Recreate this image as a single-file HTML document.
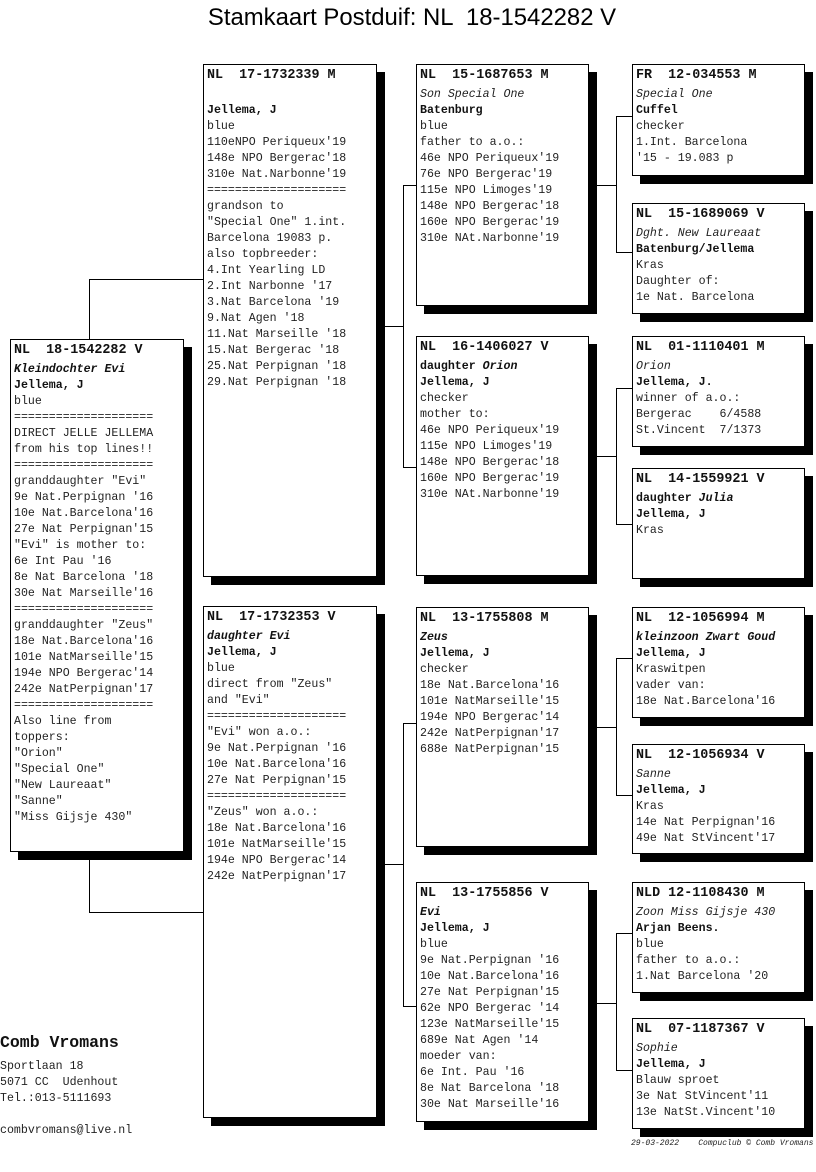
<!DOCTYPE html>
<html><head><meta charset="utf-8"><style>
body{margin:0;width:816px;height:1172px;background:#fff;position:relative;overflow:hidden;font-family:"Liberation Mono",monospace;font-size:11.6px;color:#222}
.b{position:absolute;background:#fff;border:1px solid #000;box-sizing:border-box;box-shadow:8px 8px 0 #000;padding:0 0 0 3px;white-space:pre;line-height:16px}
.b .h{font-weight:bold;font-size:13.4px;line-height:22px;height:22px;color:#111}
.i{font-style:italic}.bd{font-weight:bold;color:#111}
.l{position:absolute;background:#000}
.title{position:absolute;left:0;width:824px;top:4px;text-align:center;font-family:"Liberation Sans",sans-serif;font-size:23.9px;color:#000;white-space:pre}
</style></head><body>
<div class="title">Stamkaart Postduif: NL  18-1542282 V</div>

<!-- connectors -->
<div class="l" style="left:89px;top:279px;width:1px;height:60px"></div>
<div class="l" style="left:89px;top:279px;width:114px;height:1px"></div>
<div class="l" style="left:89px;top:858px;width:1px;height:54px"></div>
<div class="l" style="left:89px;top:912px;width:114px;height:1px"></div>

<div class="l" style="left:385px;top:326px;width:18px;height:1px"></div>
<div class="l" style="left:403px;top:185px;width:1px;height:282px"></div>
<div class="l" style="left:403px;top:185px;width:13px;height:1px"></div>
<div class="l" style="left:403px;top:467px;width:13px;height:1px"></div>
<div class="l" style="left:385px;top:864px;width:18px;height:1px"></div>
<div class="l" style="left:403px;top:723px;width:1px;height:283px"></div>
<div class="l" style="left:403px;top:723px;width:13px;height:1px"></div>
<div class="l" style="left:403px;top:1006px;width:13px;height:1px"></div>

<div class="l" style="left:597px;top:185px;width:19px;height:1px"></div>
<div class="l" style="left:616px;top:116px;width:1px;height:136px"></div>
<div class="l" style="left:616px;top:116px;width:16px;height:1px"></div>
<div class="l" style="left:616px;top:252px;width:16px;height:1px"></div>
<div class="l" style="left:597px;top:456px;width:19px;height:1px"></div>
<div class="l" style="left:616px;top:388px;width:1px;height:136px"></div>
<div class="l" style="left:616px;top:388px;width:16px;height:1px"></div>
<div class="l" style="left:616px;top:524px;width:16px;height:1px"></div>
<div class="l" style="left:597px;top:727px;width:19px;height:1px"></div>
<div class="l" style="left:616px;top:658px;width:1px;height:137px"></div>
<div class="l" style="left:616px;top:658px;width:16px;height:1px"></div>
<div class="l" style="left:616px;top:795px;width:16px;height:1px"></div>
<div class="l" style="left:597px;top:1003px;width:19px;height:1px"></div>
<div class="l" style="left:616px;top:933px;width:1px;height:137px"></div>
<div class="l" style="left:616px;top:933px;width:16px;height:1px"></div>
<div class="l" style="left:616px;top:1070px;width:16px;height:1px"></div>

<!-- root -->
<div class="b" style="left:10px;top:339px;width:174px;height:513px"><div class="h">NL  18-1542282 V</div><div class="bd i">Kleindochter Evi</div><div class="bd">Jellema, J</div>blue
====================
DIRECT JELLE JELLEMA
from his top lines!!
====================
granddaughter "Evi"
9e Nat.Perpignan '16
10e Nat.Barcelona'16
27e Nat Perpignan'15
"Evi" is mother to:
6e Int Pau '16
8e Nat Barcelona '18
30e Nat Marseille'16
====================
granddaughter "Zeus"
18e Nat.Barcelona'16
101e NatMarseille'15
194e NPO Bergerac'14
242e NatPerpignan'17
====================
Also line from
toppers:
"Orion"
"Special One"
"New Laureaat"
"Sanne"
"Miss Gijsje 430"</div>

<!-- gen1 -->
<div class="b" style="left:203px;top:64px;width:174px;height:513px"><div class="h">NL  17-1732339 M</div>
<div class="bd">Jellema, J</div>blue
110eNPO Periqueux'19
148e NPO Bergerac'18
310e Nat.Narbonne'19
====================
grandson to
"Special One" 1.int.
Barcelona 19083 p.
also topbreeder:
4.Int Yearling LD
2.Int Narbonne '17
3.Nat Barcelona '19
9.Nat Agen '18
11.Nat Marseille '18
15.Nat Bergerac '18
25.Nat Perpignan '18
29.Nat Perpignan '18</div>

<div class="b" style="left:203px;top:606px;width:174px;height:512px"><div class="h">NL  17-1732353 V</div><div class="bd"><span class="i">daughter Evi</span></div><div class="bd">Jellema, J</div>blue
direct from "Zeus"
and "Evi"
====================
"Evi" won a.o.:
9e Nat.Perpignan '16
10e Nat.Barcelona'16
27e Nat Perpignan'15
====================
"Zeus" won a.o.:
18e Nat.Barcelona'16
101e NatMarseille'15
194e NPO Bergerac'14
242e NatPerpignan'17</div>

<!-- gen2 -->
<div class="b" style="left:416px;top:64px;width:173px;height:242px"><div class="h">NL  15-1687653 M</div><div class="i">Son Special One</div><div class="bd">Batenburg</div>blue
father to a.o.:
46e NPO Periqueux'19
76e NPO Bergerac'19
115e NPO Limoges'19
148e NPO Bergerac'18
160e NPO Bergerac'19
310e NAt.Narbonne'19</div>

<div class="b" style="left:416px;top:336px;width:173px;height:240px"><div class="h">NL  16-1406027 V</div><div class="bd">daughter <span class="i">Orion</span></div><div class="bd">Jellema, J</div>checker
mother to:
46e NPO Periqueux'19
115e NPO Limoges'19
148e NPO Bergerac'18
160e NPO Bergerac'19
310e NAt.Narbonne'19</div>

<div class="b" style="left:416px;top:607px;width:173px;height:240px"><div class="h">NL  13-1755808 M</div><div class="bd i">Zeus</div><div class="bd">Jellema, J</div>checker
18e Nat.Barcelona'16
101e NatMarseille'15
194e NPO Bergerac'14
242e NatPerpignan'17
688e NatPerpignan'15</div>

<div class="b" style="left:416px;top:882px;width:173px;height:240px"><div class="h">NL  13-1755856 V</div><div class="bd i">Evi</div><div class="bd">Jellema, J</div>blue
9e Nat.Perpignan '16
10e Nat.Barcelona'16
27e Nat Perpignan'15
62e NPO Bergerac '14
123e NatMarseille'15
689e Nat Agen '14
moeder van:
6e Int. Pau '16
8e Nat Barcelona '18
30e Nat Marseille'16</div>

<!-- gen3 -->
<div class="b" style="left:632px;top:64px;width:173px;height:112px"><div class="h">FR  12-034553 M</div><div class="i">Special One</div><div class="bd">Cuffel</div>checker
1.Int. Barcelona
'15 - 19.083 p</div>
<div class="b" style="left:632px;top:203px;width:173px;height:111px"><div class="h">NL  15-1689069 V</div><div class="i">Dght. New Laureaat</div><div class="bd">Batenburg/Jellema</div>Kras
Daughter of:
1e Nat. Barcelona</div>
<div class="b" style="left:632px;top:336px;width:173px;height:111px"><div class="h">NL  01-1110401 M</div><div class="i">Orion</div><div class="bd">Jellema, J.</div>winner of a.o.:
Bergerac    6/4588
St.Vincent  7/1373</div>
<div class="b" style="left:632px;top:468px;width:173px;height:111px"><div class="h">NL  14-1559921 V</div><div class="bd">daughter <span class="i">Julia</span></div><div class="bd">Jellema, J</div>Kras</div>
<div class="b" style="left:632px;top:607px;width:173px;height:111px"><div class="h">NL  12-1056994 M</div><div class="bd i">kleinzoon Zwart Goud</div><div class="bd">Jellema, J</div>Kraswitpen
vader van:
18e Nat.Barcelona'16</div>
<div class="b" style="left:632px;top:744px;width:173px;height:110px"><div class="h">NL  12-1056934 V</div><div class="i">Sanne</div><div class="bd">Jellema, J</div>Kras
14e Nat Perpignan'16
49e Nat StVincent'17</div>
<div class="b" style="left:632px;top:882px;width:173px;height:111px"><div class="h">NLD 12-1108430 M</div><div class="i">Zoon Miss Gijsje 430</div><div class="bd">Arjan Beens.</div>blue
father to a.o.:
1.Nat Barcelona '20</div>
<div class="b" style="left:632px;top:1018px;width:173px;height:111px"><div class="h">NL  07-1187367 V</div><div class="i">Sophie</div><div class="bd">Jellema, J</div>Blauw sproet
3e Nat StVincent'11
13e NatSt.Vincent'10</div>

<!-- footer -->
<div style="position:absolute;left:0;top:1033px;font-weight:bold;font-size:16.5px;color:#111">Comb Vromans</div>
<div style="position:absolute;left:0;top:1059px;line-height:16px;white-space:pre">Sportlaan 18
5071 CC  Udenhout
Tel.:013-5111693

combvromans@live.nl</div>
<div style="position:absolute;left:631px;top:1139px;font-size:8px;font-style:italic;white-space:pre">29-03-2022    Compuclub © Comb Vromans</div>
</body></html>
